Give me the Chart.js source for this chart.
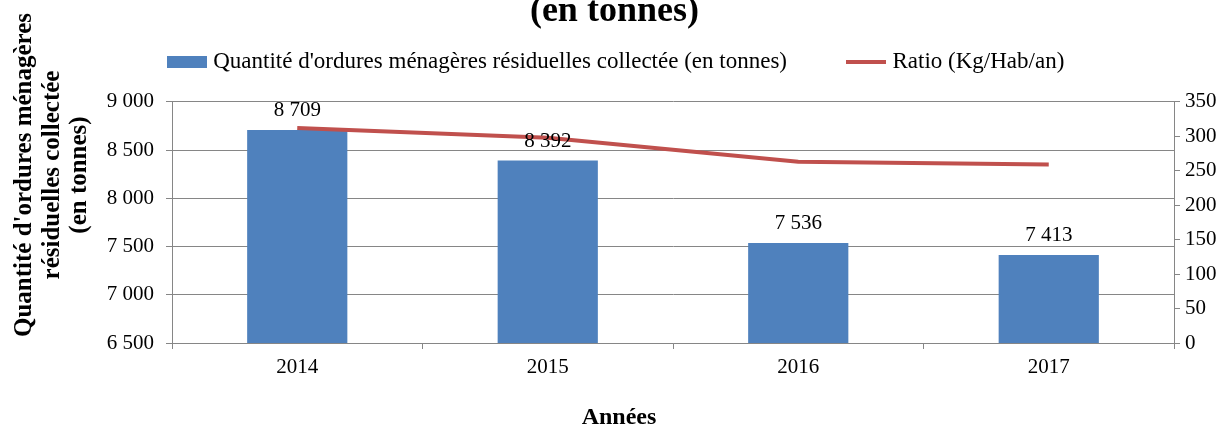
<!DOCTYPE html>
<html>
<head>
<meta charset="utf-8">
<script src="https://cdn.jsdelivr.net/npm/chart.js@4"></script>
<style>
  html, body { margin: 0; padding: 0; background: #fff; }
  #wrap { width: 1226px; height: 427px; }
</style>
</head>
<body>
<div id="wrap"><canvas id="chart" width="1226" height="427"></canvas></div>
<script>
// --- Data ---
const years = ['2014', '2015', '2016', '2017'];
const tonnes = [8709, 8392, 7536, 7413];
const ratio = [312, 298, 263, 259];

const BAR_LABEL = "Quantité d'ordures ménagères résiduelles collectée (en tonnes)";
const LINE_LABEL = 'Ratio (Kg/Hab/an)';
const Y_TITLE = ["Quantité d'ordures ménagères", 'résiduelles collectée', '(en tonnes)'];
const X_TITLE = 'Années';
const SERIF = "'Liberation Serif', 'Times New Roman', serif";
const GRID = '#868686';
const BLUE = '#4F81BD';
const RED = '#C0504D';

// thousands with a space, like "8 709"
function fmt(v) {
    return String(Math.round(v)).replace(/\B(?=(\d{3})+(?!\d))/g, ' ');
}

// small canvases used as legend symbols (40px wide swatch / line)
function swatch(w, h, color) {
    const c = document.createElement('canvas');
    c.width = w;
    c.height = h;
    const g = c.getContext('2d');
    g.fillStyle = color;
    g.fillRect(0, 0, w, h);
    return c;
}
const barSymbol = swatch(40, 12, BLUE);
const lineSymbol = swatch(40, 4, RED);

// --- Value labels above the bars ---
const barLabels = {
    id: 'barLabels',
    afterDatasetsDraw(chart) {
        const meta = chart.getDatasetMeta(1);
        const ctx = chart.ctx;
        ctx.save();
        ctx.font = '21px ' + SERIF;
        ctx.fillStyle = '#000';
        ctx.textAlign = 'center';
        ctx.textBaseline = 'alphabetic';
        meta.data.forEach((bar, i) => {
            ctx.fillText(fmt(tonnes[i]), bar.x, bar.y - 14);
        });
        ctx.restore();
    }
};

// --- Axis titles: placed like in the original (not centred on the plot) ---
const axisTitles = {
    id: 'axisTitles',
    afterDraw(chart) {
        const ctx = chart.ctx;
        ctx.save();
        ctx.fillStyle = '#000';
        ctx.textAlign = 'center';
        ctx.textBaseline = 'middle';

        ctx.font = 'bold 24px ' + SERIF;
        ctx.fillText(X_TITLE, 619, 418);

        ctx.font = 'bold 25px ' + SERIF;
        ctx.translate(0, 175);
        ctx.rotate(-Math.PI / 2);
        Y_TITLE.forEach((line, i) => {
            ctx.fillText(line, 0, 25 + i * 27.5);
        });
        ctx.restore();
    }
};

const ctx = document.getElementById('chart').getContext('2d');
new Chart(ctx, {
    data: {
        labels: years,
        datasets: [
            {
                type: 'line',
                label: LINE_LABEL,
                data: ratio,
                yAxisID: 'y1',
                borderColor: RED,
                backgroundColor: RED,
                borderWidth: 4,
                pointRadius: 0,
                tension: 0,
                order: 0
            },
            {
                type: 'bar',
                label: BAR_LABEL,
                data: tonnes,
                yAxisID: 'y',
                backgroundColor: BLUE,
                borderWidth: 0,
                barPercentage: 0.4,
                categoryPercentage: 1.0,
                order: 1
            }
        ]
    },
    options: {
        responsive: false,
        animation: false,
        layout: { padding: { left: 10, right: 0, top: 0, bottom: 0 } },
        scales: {
            x: {
                offset: true,
                grid: { display: true, drawOnChartArea: false, offset: true, tickLength: 6, color: GRID },
                border: { color: GRID, width: 1 },
                ticks: { color: '#000', font: { family: SERIF, size: 21 }, padding: 6 },
                // room below for tick labels and the title drawn by axisTitles
                afterFit: (axis) => { axis.height = 84; }
            },
            y: {
                position: 'left',
                min: 6500,
                max: 9000,
                ticks: {
                    stepSize: 500,
                    color: '#000',
                    font: { family: SERIF, size: 21 },
                    padding: 12,
                    callback: (v) => fmt(v)
                },
                grid: { color: GRID, tickLength: 6 },
                border: { color: GRID, width: 1 },
                afterFit: (axis) => { axis.width = 162; }
            },
            y1: {
                position: 'right',
                min: 0,
                max: 350,
                ticks: {
                    stepSize: 50,
                    color: '#000',
                    font: { family: SERIF, size: 21 },
                    padding: 5
                },
                grid: { drawOnChartArea: false, color: GRID, tickLength: 6 },
                border: { color: GRID, width: 1 },
                afterFit: (axis) => { axis.width = 52; }
            }
        },
        plugins: {
            title: {
                display: true,
                text: '(en tonnes)\u2009',
                color: '#000',
                font: { family: SERIF, size: 36, weight: 'bold' },
                padding: { top: -10, bottom: -12 }
            },
            // empty spacer between legend and plot
            subtitle: {
                display: true,
                text: ' ',
                font: { size: 1 },
                padding: { top: 0, bottom: 17 }
            },
            legend: {
                weight: 1800,
                reverse: true,
                labels: {
                    usePointStyle: true,
                    pointStyleWidth: 30,
                    boxHeight: 12,
                    padding: 29.5,
                    color: '#000',
                    font: { family: SERIF, size: 23 },
                    generateLabels(chart) {
                        const items = Chart.defaults.plugins.legend.labels.generateLabels(chart);
                        items.forEach(it => {
                            if (it.text === BAR_LABEL) {
                                // wider gap between the two legend entries, as in the original
                                it.text = BAR_LABEL + '\u2002'.repeat(3);
                                it.pointStyle = barSymbol;
                            } else {
                                it.pointStyle = lineSymbol;
                            }
                        });
                        return items;
                    }
                }
            },
            tooltip: { enabled: false }
        }
    },
    plugins: [barLabels, axisTitles]
});
</script>
</body>
</html>
